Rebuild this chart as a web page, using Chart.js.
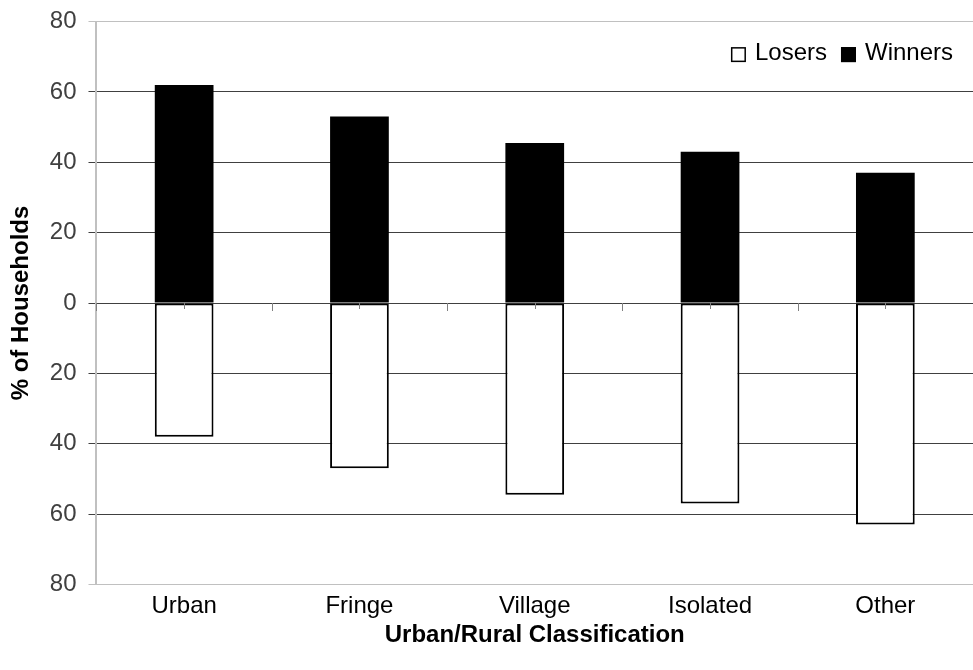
<!DOCTYPE html>
<html>
<head>
<meta charset="utf-8">
<script src="https://cdn.jsdelivr.net/npm/chart.js@4"></script>
<style>
  html, body { margin: 0; padding: 0; background: #fff; }
  #wrap { width: 973px; height: 670px; }
</style>
</head>
<body>
<div id="wrap"><canvas id="c" width="973" height="670"></canvas></div>
<script>
// Share of households that gain or lose, by urban/rural classification
const categories = ['Urban', 'Fringe', 'Village', 'Isolated', 'Other'];
const winners = [62, 53, 45.5, 43, 37];
const losers = [38, 47, 54.5, 57, 63];
const yTicks = [-80, -60, -40, -20, 0, 20, 40, 60, 80];

const FONT = '"Liberation Sans", Arial, sans-serif';

// Losers are plotted downward from the zero line
const losersDown = losers.map(v => -v);

// short tick marks on the zero line, at category edges and centres
const zeroTicks = {
  id: 'zeroTicks',
  afterDatasetsDraw(chart) {
    const x = chart.scales.x, y = chart.scales.y;
    const y0 = y.getPixelForValue(0);
    const half = (x.getPixelForValue(1) - x.getPixelForValue(0)) / 2;
    const start = x.getPixelForValue(0) - half;
    const ctx = chart.ctx;
    ctx.save();
    ctx.strokeStyle = '#808080';
    ctx.lineWidth = 1;
    for (let i = 0; i <= categories.length * 2; i++) {
      const px = Math.round(start + i * half) + 0.5;
      const len = i % 2 ? 6 : 8;
      ctx.beginPath();
      ctx.moveTo(px, y0);
      ctx.lineTo(px, y0 + len);
      ctx.stroke();
    }
    ctx.restore();
  }
};

// legend drawn in a row at the top right of the plot area
const cornerLegend = {
  id: 'cornerLegend',
  afterDraw(chart) {
    const ctx = chart.ctx;
    const area = chart.chartArea;
    const box = 15, boxGap = 9, itemGap = 14;
    const cy = area.top + 32;
    ctx.save();
    ctx.font = '24px ' + FONT;
    ctx.textBaseline = 'middle';
    const items = chart.data.datasets.map(ds => ({
      text: ds.label, fill: ds.backgroundColor, stroke: ds.borderColor,
      w: ctx.measureText(ds.label).width
    }));
    let total = 0;
    items.forEach((it, i) => { total += box + boxGap + it.w + (i ? itemGap : 0); });
    let x = area.right - 20 - total;
    items.forEach((it, i) => {
      if (i) x += itemGap;
      ctx.fillStyle = it.fill;
      ctx.fillRect(x, cy - box / 2 + 1, box, box);
      ctx.strokeStyle = it.stroke;
      ctx.lineWidth = 1.5;
      ctx.strokeRect(x + 0.75, cy - box / 2 + 1.75, box - 1.5, box - 1.5);
      x += box + boxGap;
      ctx.fillStyle = '#000';
      ctx.fillText(it.text, x, cy);
      x += it.w;
    });
    ctx.restore();
  }
};

new Chart(document.getElementById('c'), {
  type: 'bar',
  data: {
    labels: categories,
    datasets: [
      {
        label: 'Losers',
        data: losersDown,
        backgroundColor: '#ffffff',
        borderColor: '#000000',
        borderWidth: 2,
        borderSkipped: false,
        categoryPercentage: 1,
        barPercentage: 0.335
      },
      {
        label: 'Winners',
        data: winners,
        backgroundColor: '#000000',
        borderColor: '#000000',
        borderWidth: 0,
        categoryPercentage: 1,
        barPercentage: 0.335
      }
    ]
  },
  options: {
    responsive: false,
    animation: false,
    layout: { padding: { top: 0, right: 0, left: 5, bottom: 20 } },
    plugins: {
      tooltip: { enabled: false },
      legend: { display: false }
    },
    scales: {
      x: {
        stacked: true,
        grid: { display: false },
        border: { display: false },
        ticks: {
          font: { family: FONT, size: 24 },
          color: '#000',
          padding: 0
        },
        title: {
          display: true,
          text: 'Urban/Rural Classification',
          font: { family: FONT, size: 24, weight: 'bold' },
          color: '#000',
          padding: { top: 0, bottom: 0 }
        }
      },
      y: {
        stacked: true,
        min: -80,
        max: 80,
        afterBuildTicks(scale) {
          scale.ticks = yTicks.map(v => ({ value: v }));
        },
        ticks: {
          font: { family: FONT, size: 24, lineHeight: 0.8 },
          color: '#404040',
          padding: 12,
          callback: v => String(Math.abs(v))
        },
        grid: {
          color: ctx => (ctx.tick && Math.abs(ctx.tick.value) === 80) ? '#c0c0c0' : '#404040',
          lineWidth: 1,
          tickLength: 8
        },
        border: { color: '#c0c0c0', width: 2 },
        title: {
          display: true,
          text: '% of Households',
          font: { family: FONT, size: 24, weight: 'bold' },
          color: '#000',
          padding: { top: 2, bottom: 2 }
        }
      }
    }
  },
  plugins: [zeroTicks, cornerLegend]
});
</script>
</body>
</html>
